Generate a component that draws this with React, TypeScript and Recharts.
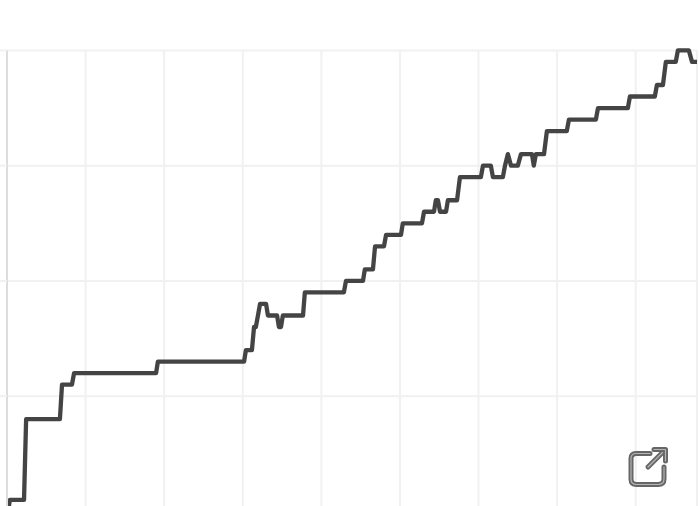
import { CartesianGrid, Line, LineChart, XAxis, YAxis } from 'recharts';

// days since start of the window (one grid cell = 30 days)
const days = [
  0.4, 1.1, 6.5, 7.3, 20.2, 21.0, 24.8, 25.6, 56.9, 57.6, 90.5, 91.2, 93.5, 94.3, 95.0, 96.6,
  98.9, 99.6, 103.1, 103.8, 104.6, 105.3, 113.0, 113.7, 128.6, 129.4, 135.9, 136.6, 139.7, 140.5,
  143.9, 144.7, 150.4, 151.1, 158.4, 159.2, 163.0, 163.7, 164.5, 165.3, 167.6, 168.3, 171.8, 172.9,
  180.9, 181.7, 184.7, 185.5, 189.3, 190.1, 191.2, 192.4, 195.0, 196.2, 200.4, 201.1, 201.9, 205.0,
  206.1, 213.7, 214.5, 224.8, 225.6, 237.0, 237.8, 247.3, 248.1, 250.4, 251.5, 255.3, 256.1, 260.3,
  261.5, 263.4,
];

// running count, same order as days
const counts = [
  0, 1, 1, 8, 8, 11, 11, 12, 12, 13, 13, 14, 14, 16, 16, 18,
  18, 17, 17, 16, 16, 17, 17, 19, 19, 20, 20, 21, 21, 23,
  23, 24, 24, 25, 25, 26, 26, 27, 27, 26, 26, 27, 27, 29,
  29, 30, 30, 29, 29, 30, 31, 30, 30, 31, 31, 30, 31, 31,
  33, 33, 34, 34, 35, 35, 36, 36, 37, 37, 39, 39, 40, 40,
  39, 39,
];

const xTicks = [0, 30, 60, 90, 120, 150, 180, 210, 240];
const yTicks = [0, 10, 20, 30, 40];

const chartData = days.map((day, i) => ({ day, count: counts[i] }));

const gridColor = '#f1f1f1';

function ExternalLinkIcon() {
  const box = 'M650 453.5 H636 Q631 453.5 631 458.5 V479 Q631 484.5 636.5 484.5 H658 Q664 484.5 664 479 V467';
  const shaft = 'M648 467 L665 450';
  const head = 'M654 449.5 H665.5 V461';
  return (
    <svg
      width={699}
      height={506}
      style={{ position: 'absolute', left: 0, top: 0, pointerEvents: 'none' }}
    >
      {[box, shaft, head].map(d => (
        <g key={d} fill="none" strokeLinecap="round" strokeLinejoin="round">
          <path d={d} stroke="#666666" strokeWidth={5} />
          <path d={d} stroke="#b4b4b4" strokeWidth={1.2} />
        </g>
      ))}
    </svg>
  );
}

export default function App() {
  return (
    <div
      style={{
        position: 'absolute',
        left: 0,
        top: 0,
        width: 699,
        height: 506,
        overflow: 'hidden',
        background: '#fff',
      }}
    >
      {/* taller than the window on purpose: the x axis falls below the crop */}
      <LineChart
        width={699}
        height={560}
        data={chartData}
        margin={{ top: 50.4, right: 2, left: 0, bottom: 28.6 }}
      >
        <CartesianGrid stroke={gridColor} strokeWidth={2} />
        <XAxis
          type="number"
          dataKey="day"
          domain={[0, 263.4]}
          ticks={xTicks}
          interval={0}
          height={20}
          tickFormatter={() => ''}
          axisLine={false}
          tickLine={false}
        />
        <YAxis
          type="number"
          domain={[0, 40]}
          ticks={yTicks}
          width={7}
          tickSize={7}
          tickFormatter={() => ''}
          axisLine={{ stroke: '#dddddd', strokeWidth: 2 }}
          tickLine={{ stroke: gridColor, strokeWidth: 2 }}
        />
        <Line
          type="linear"
          dataKey="count"
          stroke="#444444"
          strokeWidth={4.3}
          strokeLinejoin="round"
          dot={false}
          activeDot={false}
          isAnimationActive={false}
        />
      </LineChart>
      <ExternalLinkIcon />
    </div>
  );
}
